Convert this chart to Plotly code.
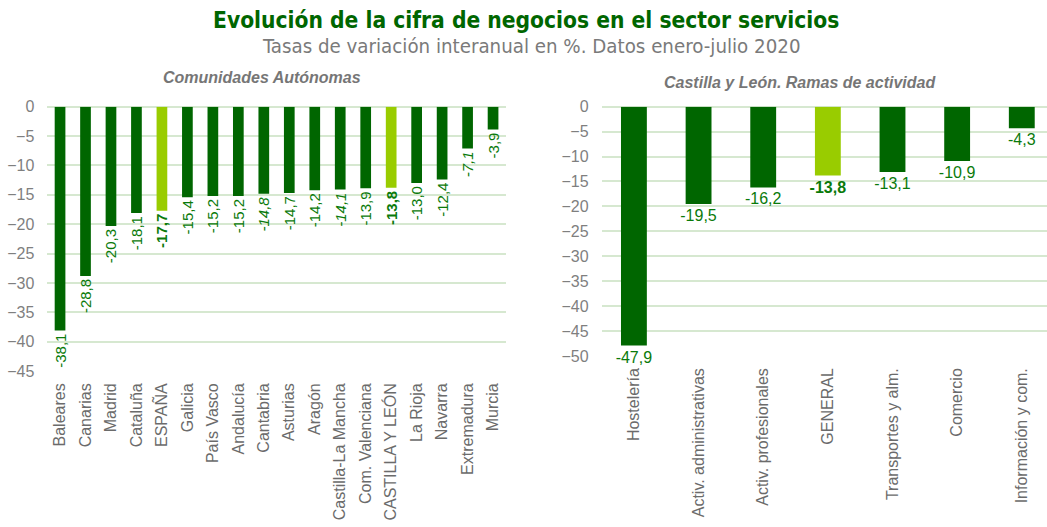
import plotly.graph_objects as go

# ---- data ----
ccaa = ["Baleares", "Canarias", "Madrid", "Cataluña", "ESPAÑA", "Galicia", "País Vasco",
        "Andalucía", "Cantabria", "Asturias", "Aragón", "Castilla-La Mancha",
        "Com. Valenciana", "CASTILLA Y LEÓN", "La Rioja", "Navarra", "Extremadura", "Murcia"]
ccaa_vals = [-38.1, -28.8, -20.3, -18.1, -17.7, -15.4, -15.2, -15.2, -14.8, -14.7, -14.2,
             -14.1, -13.9, -13.8, -13.0, -12.4, -7.1, -3.9]
ccaa_highlight = ["ESPAÑA", "CASTILLA Y LEÓN"]
ccaa_italic = ["Cantabria", "Castilla-La Mancha", "Extremadura"]

ramas = ["Hostelería", "Activ. administrativas", "Activ. profesionales", "GENERAL",
         "Transportes y alm.", "Comercio", "Información y com."]
ramas_vals = [-47.9, -19.5, -16.2, -13.8, -13.1, -10.9, -4.3]
ramas_highlight = ["GENERAL"]

left_ticks = list(range(-45, 1, 5))
right_ticks = list(range(-50, 1, 5))

DARK = "#006600"
LIGHT = "#99CC00"
LBL = "#0A7A0A"
GRID = "#D6E8D0"
GREY = "#7F7F7F"
XGREY = "#6B6B6B"
W, H = 1047, 527
SANS = "Liberation Sans, Arial, sans-serif"
NARROW = "Liberation Sans Narrow, DejaVu Sans Condensed, Arial Narrow, sans-serif"


def fmt(v):
    return f"{v:.1f}".replace(".", ",")


def label(cat, v, highlight, italic):
    s = fmt(v)
    if cat in highlight:
        return f"<b>{s}</b>"
    if cat in italic:
        return f"<i>{s}</i>"
    return s


fig = go.Figure()

fig.add_trace(go.Bar(
    x=ccaa, y=ccaa_vals, xaxis="x", yaxis="y", width=0.42,
    marker=dict(color=[LIGHT if c in ccaa_highlight else DARK for c in ccaa],
                line=dict(width=0)),
    text=[label(c, v, ccaa_highlight, ccaa_italic) for c, v in zip(ccaa, ccaa_vals)],
    textposition="outside", textangle=-90, constraintext="none", cliponaxis=False,
    textfont=dict(color=LBL, size=15, family=SANS),
    hoverinfo="skip", showlegend=False,
))

fig.add_trace(go.Bar(
    x=ramas, y=ramas_vals, xaxis="x2", yaxis="y2", width=0.40,
    marker=dict(color=[LIGHT if c in ramas_highlight else DARK for c in ramas],
                line=dict(width=0)),
    text=[label(c, v, ramas_highlight, []) for c, v in zip(ramas, ramas_vals)],
    textposition="outside", textangle=0, constraintext="none", cliponaxis=False,
    textfont=dict(color=LBL, size=16, family=SANS),
    hoverinfo="skip", showlegend=False,
))

tickfont_y = dict(color=GREY, size=16, family=SANS)
tickfont_x = dict(color=XGREY, size=16, family=SANS)

common_x = dict(tickangle=-90, tickfont=tickfont_x, showgrid=False, showline=False,
                ticks="", ticklabelstandoff=8, automargin=False, zeroline=False)
common_y = dict(tickfont=tickfont_y, showgrid=True, gridcolor=GRID, gridwidth=1.5,
                zeroline=True, zerolinecolor=GRID, zerolinewidth=1.5, showline=False,
                ticks="", ticklabelstandoff=12, automargin=False)

fig.update_layout(
    template="none",
    width=W, height=H,
    margin=dict(l=0, r=0, t=0, b=0, autoexpand=False),
    paper_bgcolor="white", plot_bgcolor="white",
    font=dict(family=SANS),
    xaxis=dict(domain=[47.3 / W, 505.8 / W], anchor="y",
               range=[-0.5, len(ccaa) - 0.5], **common_x),
    yaxis=dict(domain=[1 - 371.1 / H, 1 - 106.7 / H], anchor="x", range=[-45, 0],
               tickvals=left_ticks, **common_y),
    xaxis2=dict(domain=[601.6 / W, 1.0], anchor="y2", range=[-0.5, 6.39], **common_x),
    yaxis2=dict(domain=[1 - 356.0 / H, 1 - 106.7 / H], anchor="x2", range=[-50, 0],
                tickvals=right_ticks, **common_y),
)

annotations = [
    dict(text="<b>Evolución de la cifra de negocios en el sector servicios</b>",
         x=526 / W, y=1 - 20 / H, font=dict(size=22.6, color=DARK, family=NARROW)),
    dict(text="Tasas de variación interanual en %. Datos enero-julio 2020",
         x=531 / W, y=1 - 46 / H, font=dict(size=20.3, color="#7A7A7A", family=NARROW)),
    dict(text="<b><i>Comunidades Autónomas</i></b>",
         x=262 / W, y=1 - 77 / H, font=dict(size=16, color="#767676", family=SANS)),
    dict(text="<b><i>Castilla y León. Ramas de actividad</i></b>",
         x=800 / W, y=1 - 82 / H, font=dict(size=16, color="#767676", family=SANS)),
]
for a in annotations:
    a.update(xref="paper", yref="paper", showarrow=False, xanchor="center", yanchor="middle")
fig.update_layout(annotations=annotations)

fig.write_html("out.html", config={"displayModeBar": False},
               post_script="document.body.style.margin='0';")
